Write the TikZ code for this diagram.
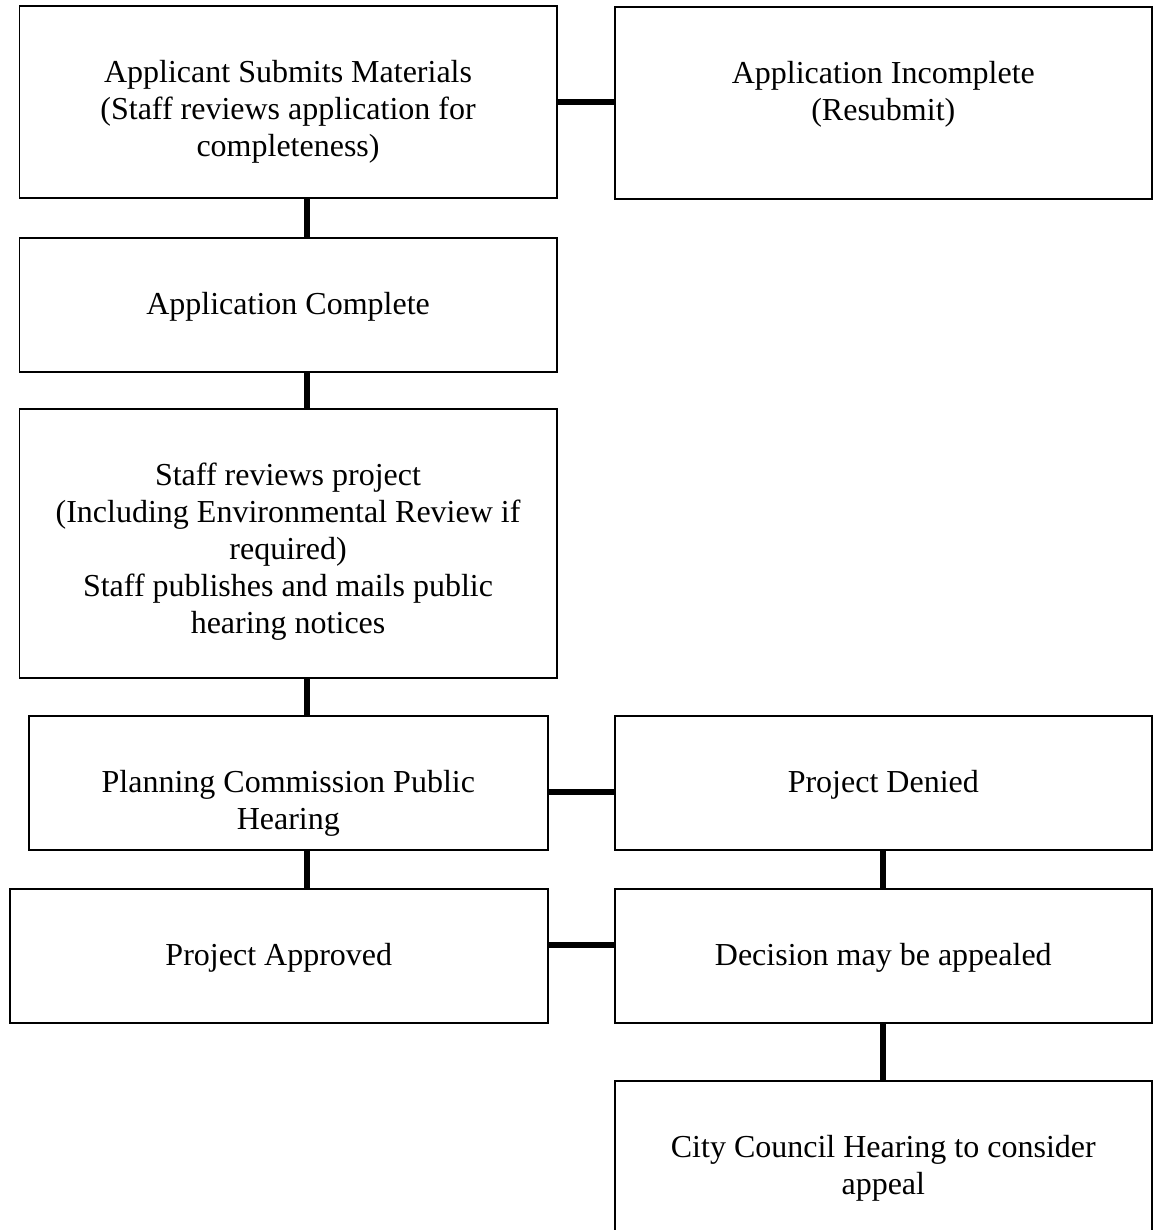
\documentclass[tikz,border=0pt]{standalone}
\usepackage{fontspec}
\setmainfont{Liberation Serif}
\usetikzlibrary{positioning}

\begin{document}
\begin{tikzpicture}[x = 1pt, y = -1pt,
	box/.style = {draw, line width = 1.6pt, inner sep = 0pt, anchor = north west},
	txt/.style = {align = center, inner sep = 0pt, font = \fontsize{32}{37}\selectfont},
	link/.style = {line width = 5.5pt}]

	% Page frame
	
	\useasboundingbox (0, 0) rectangle (1156, 1230);
	\clip (0, 0) rectangle (1156, 1230);
	
	% Where the connectors run
	
	\coordinate (left spine) at (307, 0);
	\coordinate (right spine) at (883, 0);
	\coordinate (denied row) at (0, 792);
	\coordinate (approved row) at (0, 945);
	
	% Left column boxes
	
	\node [box, minimum width = 537.5pt, minimum height = 192pt] (submit) at (18.5, 5) {};
	\node [box, minimum width = 537.5pt, minimum height = 134pt] (complete) at (18.5, 237) {};
	\node [box, minimum width = 537.5pt, minimum height = 269pt] (review) at (18.5, 408) {};
	\node [box, minimum width = 519pt, minimum height = 134pt] (hearing) at (28, 715) {};
	\node [box, minimum width = 538pt, minimum height = 134pt] (approved) at (9, 888) {};
	
	% Right column boxes
	
	\node [box, minimum width = 537pt, minimum height = 192pt] (incomplete) at (614, 6) {};
	\node [box, minimum width = 537pt, minimum height = 134pt] (denied) at (614, 715) {};
	\node [box, minimum width = 537pt, minimum height = 134pt] (appeal) at (614, 888) {};
	\node [box, minimum width = 537pt, minimum height = 170pt] (council) at (614, 1080) {};
	
	% Texts, hung from the top of each box
	
	\node [txt, below = 51pt of submit.north] (submit text) {\strut Applicant Submits Materials\\(Staff reviews application for\\completeness)};
	\node [txt, below = 51pt of complete.north] (complete text) {\strut Application Complete};
	\node [txt, below = 51pt of review.north] (review text) {\strut Staff reviews project\\(Including Environmental Review if\\required)\\Staff publishes and mails public\\hearing notices};
	\node [txt, below = 51pt of hearing.north] (hearing text) {\strut Planning Commission Public\\Hearing};
	\node [txt, below = 51pt of approved.north] (approved text) {\strut Project Approved};
	
	\node [txt, below = 51pt of incomplete.north] (incomplete text) {\strut Application Incomplete\\(Resubmit)};
	\node [txt, below = 51pt of denied.north] (denied text) {\strut Project Denied};
	\node [txt, below = 51pt of appeal.north] (appeal text) {\strut Decision may be appealed};
	\node [txt, below = 51pt of council.north] (council text) {\strut City Council Hearing to consider\\appeal};
	
	% Connectors
	
	\begin{scope}[link]
	
		\draw (submit.east) -- (incomplete.west |- submit.east);
		
		\draw (submit.south -| left spine) -- (complete.north -| left spine);
		\draw (complete.south -| left spine) -- (review.north -| left spine);
		\draw (review.south -| left spine) -- (hearing.north -| left spine);
		\draw (hearing.south -| left spine) -- (approved.north -| left spine);
		
		\draw (hearing.east |- denied row) -- (denied.west |- denied row);
		\draw (approved.east |- approved row) -- (appeal.west |- approved row);
		
		\draw (denied.south -| right spine) -- (appeal.north -| right spine);
		\draw (appeal.south -| right spine) -- (council.north -| right spine);
		
	\end{scope}

\end{tikzpicture}
\end{document}
